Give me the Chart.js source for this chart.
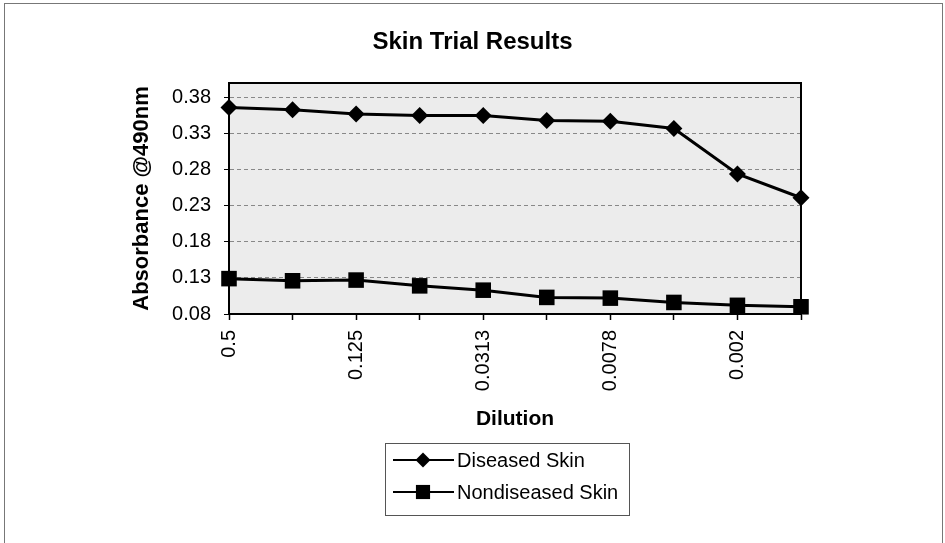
<!DOCTYPE html>
<html>
<head>
<meta charset="utf-8">
<title>Skin Trial Results</title>
<script src="https://cdn.jsdelivr.net/npm/chart.js@4/dist/chart.umd.min.js"></script>
<style>
    body { margin: 0; background: #fff; }
    #wrap { width: 945px; height: 543px; }
</style>
</head>
<body>
<div id="wrap"><canvas id="skinChart" width="945" height="543"></canvas></div>
<script>
// Chart data
const dilutions = ['0.5', '0.25', '0.125', '0.0625', '0.0313', '0.0156', '0.0078', '0.0039', '0.002', '0.001'];
const diseasedSkin = [0.366, 0.363, 0.357, 0.355, 0.355, 0.348, 0.347, 0.337, 0.274, 0.241];
const nondiseasedSkin = [0.129, 0.126, 0.127, 0.119, 0.113, 0.103, 0.102, 0.096, 0.092, 0.090];
const yTicks = [0.08, 0.13, 0.18, 0.23, 0.28, 0.33, 0.38];

const FONT = "'Liberation Sans', Arial, sans-serif";

// Plot area in the original picture
const PLOT = { left: 229, right: 801, top: 83, bottom: 314 };

// White page, thin outer frame and grey plot background
const backgroundPlugin = {
    id: 'background',
    beforeDraw(chart) {
        const ctx = chart.ctx;
        const area = chart.chartArea;
        ctx.save();
        ctx.fillStyle = '#ffffff';
        ctx.fillRect(0, 0, chart.width, chart.height);
        ctx.strokeStyle = '#777';
        ctx.lineWidth = 1;
        ctx.strokeRect(4.5, 3.5, 938, 600);
        ctx.fillStyle = '#ececec';
        ctx.fillRect(area.left, area.top, area.right - area.left, area.bottom - area.top);
        ctx.restore();
    },
    beforeDatasetsDraw(chart) {
        const ctx = chart.ctx;
        const area = chart.chartArea;
        ctx.save();
        ctx.strokeStyle = '#000';
        ctx.lineWidth = 2;
        ctx.strokeRect(area.left, area.top, area.right - area.left, area.bottom - area.top);
        ctx.restore();
    }
};

function drawMarker(ctx, style, x, y, r) {
    ctx.beginPath();
    if (style === 'rectRot') {
        ctx.moveTo(x - r, y);
        ctx.lineTo(x, y - r);
        ctx.lineTo(x + r, y);
        ctx.lineTo(x, y + r);
    } else {
        const s = r * Math.SQRT1_2;
        ctx.rect(x - s, y - s, s * 2, s * 2);
    }
    ctx.closePath();
    ctx.fill();
}

// Boxed legend with line + marker, like the original
const boxLegendPlugin = {
    id: 'boxLegend',
    afterDraw(chart) {
        const ctx = chart.ctx;
        const box = { x: 385, y: 443, w: 244, h: 72 };
        const rows = [460, 492];
        ctx.save();
        ctx.strokeStyle = '#555';
        ctx.lineWidth = 1;
        ctx.strokeRect(box.x + 0.5, box.y + 0.5, box.w, box.h);
        chart.data.datasets.forEach((ds, i) => {
            const y = rows[i];
            ctx.strokeStyle = '#000';
            ctx.lineWidth = 2;
            ctx.beginPath();
            ctx.moveTo(393, y);
            ctx.lineTo(454, y);
            ctx.stroke();
            ctx.fillStyle = '#000';
            drawMarker(ctx, ds.pointStyle, 423, y, ds.pointStyle === 'rectRot' ? 7.5 : 10);
            ctx.font = '20px ' + FONT;
            ctx.textBaseline = 'middle';
            ctx.textAlign = 'left';
            ctx.fillText(ds.label, 457, y + 1);
        });
        ctx.restore();
    }
};

const ctx = document.getElementById('skinChart').getContext('2d');

const chart = new Chart(ctx, {
    type: 'line',
    data: {
        labels: dilutions,
        datasets: [{
            label: 'Diseased Skin',
            data: diseasedSkin,
            borderColor: '#000',
            backgroundColor: '#000',
            borderWidth: 3,
            pointStyle: 'rectRot',
            pointRadius: 8.5,
            pointBackgroundColor: '#000',
            pointBorderWidth: 0,
            tension: 0,
            clip: false
        }, {
            label: 'Nondiseased Skin',
            data: nondiseasedSkin,
            borderColor: '#000',
            backgroundColor: '#000',
            borderWidth: 3,
            pointStyle: 'rect',
            pointRadius: 11,
            pointBackgroundColor: '#000',
            pointBorderWidth: 0,
            tension: 0,
            clip: false
        }]
    },
    options: {
        responsive: false,
        animation: false,
        devicePixelRatio: 1,
        layout: {
            padding: 0
        },
        plugins: {
            legend: { display: false },
            tooltip: { enabled: false },
            title: {
                display: true,
                text: 'Skin Trial Results',
                color: '#000',
                font: { family: FONT, size: 24, weight: 'bold', lineHeight: 1.2 },
                padding: { top: 28, bottom: 83 - 28 - 28.8 }
            }
        },
        scales: {
            x: {
                type: 'category',
                offset: false,
                grid: {
                    drawOnChartArea: false,
                    drawTicks: true,
                    tickLength: 6,
                    tickColor: '#000',
                    tickWidth: 1.5
                },
                border: { color: '#000', width: 2 },
                ticks: {
                    autoSkip: false,
                    minRotation: 90,
                    maxRotation: 90,
                    padding: 10,
                    color: '#000',
                    font: { family: FONT, size: 20 },
                    callback: (val, i) => (i % 2 === 0 ? dilutions[i] : '')
                },
                title: {
                    display: true,
                    text: 'Dilution',
                    color: '#000',
                    font: { family: FONT, size: 21, weight: 'bold', lineHeight: 1.2 },
                    padding: { top: 0, bottom: 111 }
                },
                afterFit(scale) {
                    scale.height = 543 - PLOT.bottom;
                }
            },
            y: {
                min: 0.08,
                max: 0.40,
                grid: {
                    color: '#888',
                    lineWidth: 1,
                    tickLength: 5,
                    tickColor: '#000',
                    tickBorderDash: []
                },
                border: { color: '#000', width: 2, dash: [4, 3] },
                afterBuildTicks(scale) {
                    scale.ticks = yTicks.map(v => ({ value: v }));
                },
                ticks: {
                    padding: 13,
                    color: '#000',
                    font: { family: FONT, size: 20 },
                    callback: v => Number(v).toFixed(2)
                },
                title: {
                    display: true,
                    text: 'Absorbance @490nm',
                    color: '#000',
                    font: { family: FONT, size: 22, weight: 'bold', lineHeight: 1.2 },
                    padding: { top: 129, bottom: 0 }
                },
                afterFit(scale) {
                    scale.width = PLOT.left;
                }
            },
            // empty right-hand axis that only reserves the white margin
            yRight: {
                position: 'right',
                display: true,
                grid: { display: false },
                border: { display: false },
                ticks: { display: false },
                afterFit(scale) {
                    scale.width = 945 - PLOT.right;
                }
            }
        }
    },
    plugins: [backgroundPlugin, boxLegendPlugin]
});
</script>
</body>
</html>
